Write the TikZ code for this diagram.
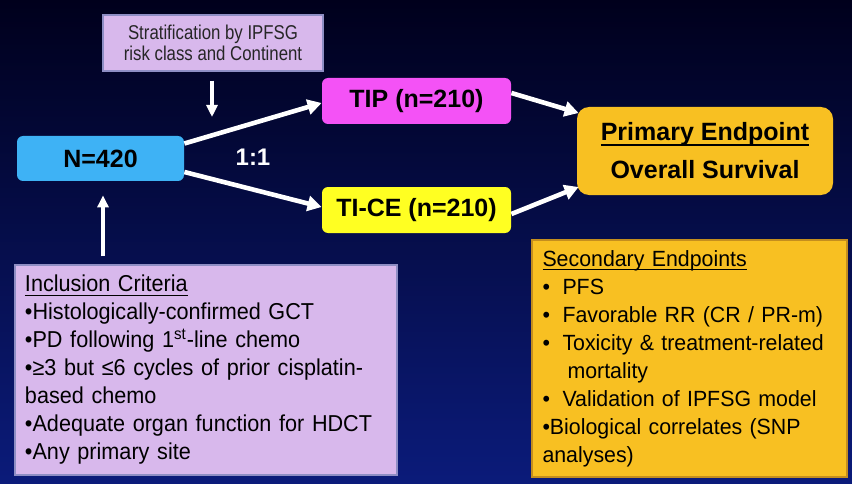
\documentclass[tikz,border=0pt]{standalone}
\usepackage{fontspec}
\setmainfont{Liberation Sans}
\newfontfamily\stratfont{Liberation Sans}[FakeStretch=0.84]
\newfontfamily\inclfont{Liberation Sans}[FakeStretch=0.94]
\newfontfamily\secfont{Liberation Sans}[FakeStretch=0.97]
\usepackage{xcolor}
\usetikzlibrary{arrows.meta,positioning,calc}

\definecolor{bgtop}{HTML}{00001C}
\definecolor{bgbot}{HTML}{0B1B7A}
\definecolor{lav}{HTML}{D8B8EC}
\definecolor{lavline}{HTML}{8E8EC4}
\definecolor{nblue}{HTML}{3EB2F5}
\definecolor{tipmag}{HTML}{F452F6}
\definecolor{ticeyel}{HTML}{FFFF22}
\definecolor{endorange}{HTML}{F8C022}
\definecolor{endline}{HTML}{C48E1E}

% underline set close to the baseline
\newcommand\ulhead[3]{\setbox0\hbox{#3}\rlap{\rule[#1]{\wd0}{#2}}\box0}

\begin{document}
\begin{tikzpicture}[x=0.5pt,y=0.5pt,
  box/.style={rounded corners=3pt,inner sep=0pt,font=\fontsize{12.5}{19}\selectfont\bfseries,align=center},
  panel/.style={draw=lavline,fill=lav,line width=0.6pt,inner sep=0pt},
  bigarrow/.style={white,line width=2.3pt,-{Triangle[length=7pt,width=7.5pt]}},
  thinarrow/.style={white,line width=1.6pt,-{Triangle[length=6pt,width=5.5pt]}}]
  \shade[top color=bgtop,bottom color=bgbot] (0,0) rectangle (852,483);
  \useasboundingbox (0,0) rectangle (852,483);

  \node[panel,minimum width=110pt,minimum height=28pt,align=center,
        font=\stratfont\fontsize{10}{10.5}\selectfont,text=black!85] (strat) at (213,440)
        {Stratification by IPFSG\\risk class and Continent};
  \node[box,fill=nblue,minimum width=83.5pt,minimum height=22.5pt] (n) at (100.5,324.5) {N=420};
  \node[box,fill=tipmag,minimum width=94.5pt,minimum height=23pt] (tip) at (416.5,382) {TIP (n=210)};
  \node[box,fill=ticeyel,minimum width=94.5pt,minimum height=23pt] (tice) at (416.5,273) {TI-CE (n=210)};
  \node[box,rounded corners=6pt,fill=endorange,minimum width=128pt,minimum height=44pt] (prim) at (705,332)
        {\ulhead{-2.5pt}{1.1pt}{Primary Endpoint}\\Overall Survival};
  \node[white,font=\fontsize{12}{12}\selectfont\bfseries] (ratio) at (253,326) {1:1};

  \node[panel,minimum width=191pt,minimum height=105pt,text width=181pt,align=left,
        font=\inclfont\fontsize{11.5}{14}\selectfont] (incl) at (206,113)
        {\ulhead{-1.9pt}{0.6pt}{Inclusion Criteria}\\
         •Histologically-confirmed GCT\\
         •PD following 1\textsuperscript{st}-line chemo\\
         •≥3 but ≤6 cycles of prior cisplatin-\\
         based chemo\\
         •Adequate organ function for HDCT\\
         •Any primary site};
  \node[draw=endline,fill=endorange,line width=0.6pt,inner sep=0pt,minimum width=157.5pt,minimum height=118.5pt,
        text width=147pt,align=left,font=\secfont\fontsize{11}{14}\selectfont] (sec) at (689.5,124.5)
        {\ulhead{-1.9pt}{0.6pt}{Secondary Endpoints}\\
         \makebox[10pt][l]{•}PFS\\
         \makebox[10pt][l]{•}Favorable RR (CR / PR-m)\\
         \makebox[10pt][l]{•}Toxicity \& treatment-related\\
         \hspace*{12.5pt}mortality\\
         \makebox[10pt][l]{•}Validation of IPFSG model\\
         •Biological correlates (SNP\\
         analyses)};

  \coordinate (split) at (212,366);
  \draw[thinarrow] ([yshift=-4.5pt]strat.south -| split) -- (split);
  \draw[thinarrow,line width=2pt,shorten <=4pt,shorten >=7pt] (incl.north -| 103,0) -- (n.south -| 103,0);
  \draw[bigarrow] ([yshift=7.5pt]n.east) -- ([yshift=-1pt]tip.west);
  \draw[bigarrow] ([yshift=-6.75pt]n.east) -- ([yshift=1.5pt]tice.west);
  \draw[bigarrow] ([yshift=4pt]tip.east) -- ([yshift=19pt,xshift=1pt]prim.west);
  \draw[bigarrow] ([yshift=-2pt]tice.east) -- ([yshift=-18pt,xshift=1pt]prim.west);
\end{tikzpicture}
\end{document}
